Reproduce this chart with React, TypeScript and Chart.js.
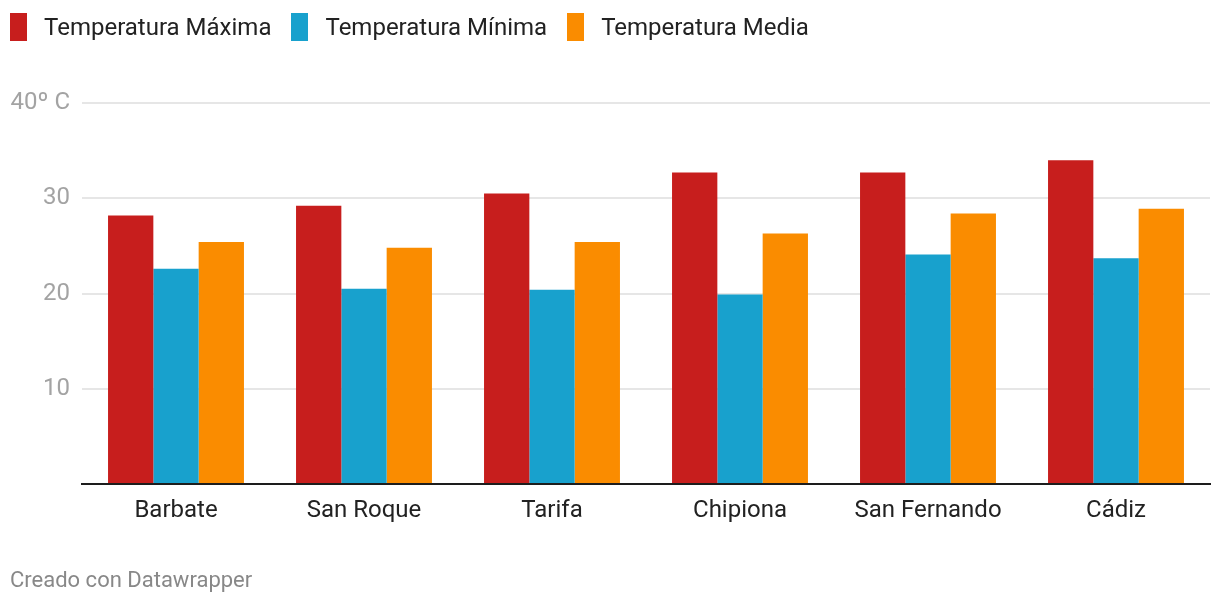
import React, { useEffect, useRef } from "react";
import { Chart, registerables } from "chart.js";

Chart.register(...registerables);

const categories = ["Barbate", "San Roque", "Tarifa", "Chipiona", "San Fernando", "Cádiz"];
const tempMax = [28.2, 29.2, 30.5, 32.7, 32.7, 34.0];
const tempMin = [22.6, 20.5, 20.4, 19.9, 24.1, 23.7];
const tempMedia = [25.4, 24.8, 25.4, 26.3, 28.4, 28.9];
const seriesNames = ["Temperatura Máxima", "Temperatura Mínima", "Temperatura Media"];
const seriesColors = ["#c71e1d", "#18a1cd", "#fa8c00"];
const yTicks = [0, 10, 20, 30, 40];
const yTickLabels = ["", "10", "20", "30", "40º C"];

const FONT = "Roboto, 'Noto Sans', sans-serif";

export default function App() {
  const ref = useRef<HTMLCanvasElement | null>(null);

  useEffect(() => {
    if (!ref.current) return;
    const chart = new Chart(ref.current, {
      type: "bar",
      data: {
        labels: categories,
        datasets: [tempMax, tempMin, tempMedia].map((d, i) => ({
          label: seriesNames[i],
          data: d,
          backgroundColor: seriesColors[i],
          borderWidth: 0,
          barPercentage: 1,
          categoryPercentage: 0.723,
        })),
      },
      options: {
        responsive: false,
        animation: false,
        devicePixelRatio: 1,
        layout: { padding: { top: 103, bottom: 62, left: 0, right: 10 } },
        plugins: {
          legend: { display: false },
          tooltip: { enabled: false },
        },
        scales: {
          x: {
            grid: { display: false },
            border: { display: true, color: "#1d1d1d", width: 2 },
            ticks: {
              color: "#222222",
              font: { family: FONT, size: 24 },
              padding: 5,
              maxRotation: 0,
            },
            afterFit: (s: any) => {
              s.height = 60;
            },
          },
          y: {
            min: 0,
            max: 40,
            afterBuildTicks: (s: any) => {
              s.ticks = yTicks.map((v) => ({ value: v }));
            },
            grid: {
              color: (c: any) => (c.tick && c.tick.value === 0 ? "rgba(0,0,0,0)" : "#e6e6e6"),
              lineWidth: 2,
              drawTicks: false,
            },
            border: { display: false },
            ticks: {
              color: "#a3a3a3",
              font: { family: FONT, size: 24 },
              padding: 12,
              callback: (v: any) => {
                const idx = yTicks.indexOf(Number(v));
                return idx >= 0 ? yTickLabels[idx] : "";
              },
            },
            afterFit: (s: any) => {
              s.width = 82;
            },
          },
        },
      },
    });
    return () => chart.destroy();
  }, []);

  return (
    <div style={{ position: "absolute", top: 0, left: 0, width: 1220, height: 606, background: "#fff", fontFamily: FONT }}>
      <canvas ref={ref} width={1220} height={606} style={{ position: "absolute", top: 0, left: 0 }} />
      <div style={{ position: "absolute", top: 13, left: 10, display: "flex", alignItems: "center" }}>
        {seriesNames.map((n, i) => (
          <div key={n} style={{ display: "flex", alignItems: "center", marginRight: 20 }}>
            <span style={{ display: "inline-block", width: 17, height: 28, background: seriesColors[i], marginRight: 17 }} />
            <span style={{ fontSize: 24, color: "#222", lineHeight: "26px" }}>{n}</span>
          </div>
        ))}
      </div>
      <div style={{ position: "absolute", top: 567, left: 10, fontSize: 22, color: "#888", lineHeight: "26px" }}>
        Creado con Datawrapper
      </div>
    </div>
  );
}
